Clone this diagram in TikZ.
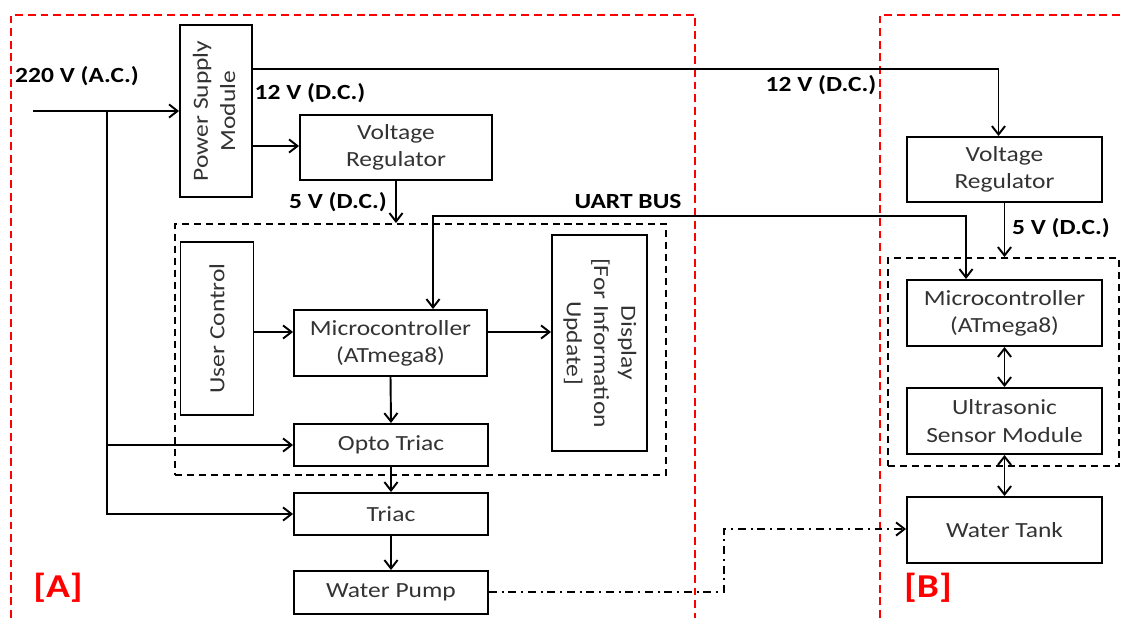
\documentclass[tikz,border=0pt]{standalone}
\usepackage{fontspec}
\setmainfont{Carlito}[FakeStretch=1.18]
\usetikzlibrary{arrows.meta}
\begin{document}
\begin{tikzpicture}[x=0.02cm,y=-0.02cm,
  every node/.style={font=\fontsize{12.3}{15.5}\selectfont},
  blk/.style={draw,line width=1.1pt,inner sep=0pt,align=center,text=black!80},
  dbox/.style={draw,line width=1.1pt,dash pattern=on 4pt off 2.8pt,inner sep=0pt},
  zone/.style={draw=red,line width=1.1pt,dash pattern=on 4.5pt off 2.7pt},
  wire/.style={line width=1.1pt},
  arr/.style={wire,-{Straight Barb[length=4.8pt,width=7.5pt]}},
  darr/.style={wire,{Straight Barb[length=4.8pt,width=7.5pt]}-{Straight Barb[length=4.8pt,width=7.5pt]}},
  dd/.style={line width=1.1pt,dash pattern=on 4.5pt off 2.8pt on 1pt off 2.8pt},
  lbl/.style={font=\fontsize{12.3}{15.5}\selectfont\bfseries},
  tag/.style={text=red,font=\fontsize{19}{22}\selectfont\bfseries}]
\useasboundingbox (0,0) rectangle (1121,618);

% zones
\draw[zone] (11,618) -- (11,15) -- (695,15) -- (695,618);
\draw[zone] (880,618) -- (880,15) -- (1121,15);

% dashed groups
\node[dbox,minimum width=9.82cm,minimum height=5.02cm] (innerA) at (420.5,349.5) {};
\node[dbox,minimum width=4.62cm,minimum height=4.16cm] (innerB) at (1003.5,362) {};

% blocks A
\node[blk,minimum width=1.44cm,minimum height=3.44cm] (psm) at (216,111)
  {\rotatebox{90}{\begin{tabular}{@{}c@{}}Power Supply\\Module\end{tabular}}};
\node[blk,minimum width=3.84cm,minimum height=1.30cm] (vra) at (396,147.5) {Voltage\\Regulator};
\node[blk,minimum width=1.46cm,minimum height=3.46cm] (uc) at (217,328.5)
  {\rotatebox{90}{User Control}};
\node[blk,minimum width=3.86cm,minimum height=1.32cm] (mca) at (390.5,343) {Microcontroller\\(ATmega8)};
\node[blk,minimum width=1.90cm,minimum height=4.32cm] (disp) at (599.5,343)
  {\rotatebox{-90}{\begin{tabular}{@{}c@{}}Display\\{[For Information}\\Update]\end{tabular}}};
\node[blk,minimum width=3.88cm,minimum height=0.84cm] (opto) at (391,445) {Opto Triac};
\node[blk,minimum width=3.88cm,minimum height=0.84cm] (triac) at (391,514) {Triac};
\node[blk,minimum width=3.88cm,minimum height=0.86cm] (pump) at (391,592.5) {Water Pump};

% blocks B
\node[blk,minimum width=3.90cm,minimum height=1.30cm] (vrb) at (1004.5,169.5) {Voltage\\Regulator};
\node[blk,minimum width=3.90cm,minimum height=1.32cm] (mcb) at (1004.5,313) {Microcontroller\\(ATmega8)};
\node[blk,minimum width=3.90cm,minimum height=1.32cm] (us) at (1004.5,421) {Ultrasonic\\Sensor Module};
\node[blk,minimum width=3.90cm,minimum height=1.32cm] (tank) at (1004.5,530) {Water Tank};

% labels
\node[lbl] (l220) at (77,76) {220 V (A.C.)};
\node[lbl] (l12a) at (310,93) {12 V (D.C.)};
\node[lbl] (l5a) at (338,202) {5 V (D.C.)};
\node[lbl] (luart) at (628,201) {UART BUS};
\node[lbl] (l12b) at (821,85) {12 V (D.C.)};
\node[lbl] (l5b) at (1061,228) {5 V (D.C.)};
\node[tag] (tA) at (58,588) {[A]};
\node[tag] (tB) at (928,588) {[B]};

% connectors
\coordinate (in) at (33,111);
\coordinate (br) at (107,111);
\draw[arr] (in) -- (in -| psm.west);
\draw[arr] (br) |- (opto.west);
\draw[arr] (br) |- (triac.west);
\draw[arr] (psm.east |- 0,69) -| ([xshift=-0.12cm]vrb.north);
\draw[arr] (psm.east |- 0,146) -- (vra.west |- 0,146);
\draw[arr] (vra.south) -- (vra.south |- innerA.north);
\coordinate (ua) at (433,216);
\coordinate (ub) at (966,216);
\draw[darr] (mca.north -| ua) -- (ua) -- (ub) -- (mcb.north -| ub);
\draw[arr] (uc.east |- 0,332) -- (mca.west |- 0,332);
\draw[arr] (mca.east |- 0,332) -- (disp.west |- 0,332);
\draw[arr] (mca.south) -- (opto.north);
\draw[arr] (opto.south) -- (triac.north);
\draw[arr] (triac.south) -- (pump.north);
\draw[arr] (vrb.south) -- (vrb.south |- innerB.north);
\draw[darr] (mcb.south) -- (us.north);
\draw[darr] (us.south) -- (tank.north);
\coordinate (k1) at (724,592);
\coordinate (k2) at (724,529);
\draw[dd,-{Straight Barb[length=4.8pt,width=7.5pt]}] (pump.east |- k1) -- (k1) -- (k2) -- (k2 -| tank.west);
\end{tikzpicture}
\end{document}
